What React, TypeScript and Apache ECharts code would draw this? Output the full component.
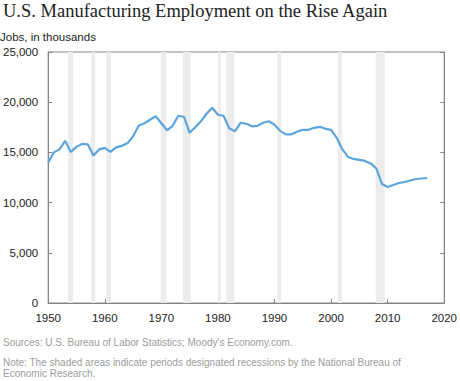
import React, { useEffect, useRef } from "react";
import * as echarts from "echarts";

const years = [
  1950, 1951, 1952, 1953, 1954, 1955, 1956, 1957, 1958, 1959,
  1960, 1961, 1962, 1963, 1964, 1965, 1966, 1967, 1968, 1969,
  1970, 1971, 1972, 1973, 1974, 1975, 1976, 1977, 1978, 1979,
  1980, 1981, 1982, 1983, 1984, 1985, 1986, 1987, 1988, 1989,
  1990, 1991, 1992, 1993, 1994, 1995, 1996, 1997, 1998, 1999,
  2000, 2001, 2002, 2003, 2004, 2005, 2006, 2007, 2008, 2009,
  2010, 2011, 2012, 2013, 2014, 2015, 2016, 2017,
];

const employment = [
  14000, 15000, 15300, 16150, 15050, 15550, 15850, 15800, 14700, 15300,
  15450, 15050, 15500, 15650, 15900, 16600, 17650, 17900, 18250, 18600,
  17900, 17200, 17650, 18650, 18550, 16950, 17500, 18100, 18850, 19450,
  18750, 18650, 17400, 17100, 17950, 17850, 17600, 17650, 17950, 18100,
  17750, 17150, 16800, 16800, 17050, 17250, 17250, 17450, 17550, 17350,
  17250, 16450, 15300, 14550, 14350, 14250, 14150, 13900, 13400, 11850,
  11550, 11750, 11950, 12050, 12200, 12350, 12400, 12450,
];

const recessionStarts = [1953.5, 1957.6, 1960.3, 1969.9, 1973.8, 1980.0, 1981.5, 1990.5, 2001.2, 2007.9];
const recessionEnds = [1954.4, 1958.3, 1961.1, 1970.9, 1975.2, 1980.5, 1982.9, 1991.2, 2001.9, 2009.5];

const xTicks = { min: 1950, max: 2020, interval: 10 };
const yTicks = { min: 0, max: 25000, interval: 5000 };

const titleText = "U.S. Manufacturing Employment on the Rise Again";
const unitText = "Jobs, in thousands";
const sourceText = "Sources: U.S. Bureau of Labor Statistics; Moody's Economy.com.";
const noteLine1 = "Note: The shaded areas indicate periods designated recessions by the National Bureau of";
const noteLine2 = "Economic Research.";

export default function App() {
  const ref = useRef<HTMLDivElement>(null);

  useEffect(() => {
    if (!ref.current) return;
    const chart = echarts.init(ref.current, undefined, { renderer: "svg" });
    const sans = "'Liberation Sans', Arial, sans-serif";
    const axisColor = "#858585";
    const lineData = years.map((y, i) => [y, employment[i]]);
    const areas = recessionStarts.map((s, i) => [{ xAxis: s }, { xAxis: recessionEnds[i] }]);

    chart.setOption({
      animation: false,
      backgroundColor: "#ffffff",
      grid: {
        left: 48,
        right: 15,
        top: 52,
        bottom: 78,
        show: true,
        borderColor: axisColor,
        borderWidth: 1,
        containLabel: false,
      },
      xAxis: {
        type: "value",
        min: xTicks.min,
        max: xTicks.max,
        interval: xTicks.interval,
        axisLine: { show: true, lineStyle: { color: axisColor, width: 1 } },
        axisTick: { show: true, inside: true, length: 4, lineStyle: { color: axisColor } },
        splitLine: { show: false },
        axisLabel: {
          color: "#222",
          fontFamily: sans,
          fontSize: 11.5,
          margin: 9,
          formatter: (v: number) => String(v),
        },
      },
      yAxis: [
        {
          type: "value",
          position: "left",
          min: yTicks.min,
          max: yTicks.max,
          interval: yTicks.interval,
          axisLine: { show: true, lineStyle: { color: axisColor, width: 1 } },
          axisTick: { show: true, inside: true, length: 4, lineStyle: { color: axisColor } },
          splitLine: { show: false },
          axisLabel: { color: "#222", fontFamily: sans, fontSize: 11.5, margin: 10 },
        },
        {
          type: "value",
          position: "right",
          min: yTicks.min,
          max: yTicks.max,
          interval: yTicks.interval,
          axisLine: { show: true, lineStyle: { color: axisColor, width: 1 } },
          axisTick: { show: true, inside: true, length: 4, lineStyle: { color: axisColor } },
          splitLine: { show: false },
          axisLabel: { show: false },
        },
      ],
      series: [
        {
          type: "line",
          data: lineData,
          showSymbol: false,
          symbol: "none",
          lineStyle: { color: "#5ca5dd", width: 2.2 },
          z: 3,
          markArea: {
            silent: true,
            itemStyle: { color: "#ececec" },
            data: areas,
          },
        },
      ],
      graphic: [
        {
          type: "text",
          left: 3,
          top: 1,
          style: {
            text: titleText,
            fill: "#222",
            fontFamily: "'Liberation Serif', 'Times New Roman', serif",
            fontSize: 18.5,
          },
        },
        {
          type: "text",
          left: 0,
          top: 31,
          style: { text: unitText, fill: "#222", fontFamily: sans, fontSize: 11.5 },
        },
        {
          type: "text",
          left: 3,
          top: 337,
          style: { text: sourceText, fill: "#9c9c9c", fontFamily: sans, fontSize: 10 },
        },
        {
          type: "text",
          left: 3,
          top: 357,
          style: { text: noteLine1, fill: "#9c9c9c", fontFamily: sans, fontSize: 10 },
        },
        {
          type: "text",
          left: 3,
          top: 368,
          style: { text: noteLine2, fill: "#9c9c9c", fontFamily: sans, fontSize: 10 },
        },
      ],
    });
    return () => chart.dispose();
  }, []);

  return (
    <div
      ref={ref}
      style={{ position: "absolute", left: 0, top: 0, width: 460, height: 381, background: "#fff" }}
    />
  );
}
